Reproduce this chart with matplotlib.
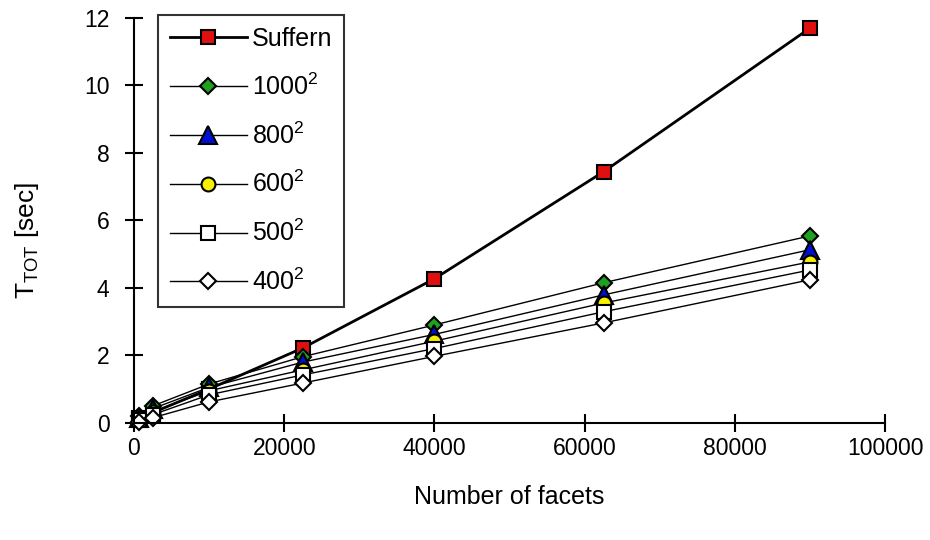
import matplotlib
matplotlib.use("Agg")
import matplotlib.pyplot as plt

facets = [625, 2500, 10000, 22500, 40000, 62500, 90000]
suffern = [0.15, 0.3, 1.0, 2.22, 4.27, 7.44, 11.7]
s1000 = [0.2, 0.5, 1.15, 1.96, 2.9, 4.15, 5.54]
s800 = [0.15, 0.42, 1.05, 1.8, 2.62, 3.79, 5.13]
s600 = [0.12, 0.33, 0.95, 1.57, 2.42, 3.55, 4.77]
s500 = [0.08, 0.24, 0.83, 1.42, 2.2, 3.29, 4.53]
s400 = [0.03, 0.15, 0.62, 1.18, 1.97, 2.96, 4.24]

labels = ["Suffern", "1000$^2$", "800$^2$", "600$^2$", "500$^2$", "400$^2$"]

plt.rcParams['font.family'] = ['Liberation Sans', 'DejaVu Sans']
plt.rcParams['mathtext.fontset'] = 'custom'
plt.rcParams['mathtext.rm'] = 'Liberation Sans'
plt.rcParams['mathtext.it'] = 'Liberation Sans'

fig = plt.figure(figsize=(9.3, 5.4), dpi=100)
ax = fig.add_axes([0.144, 0.217, 0.808, 0.750])

ax.plot(facets, suffern, '-s', color='black', lw=2, ms=10.5, mfc='#e01010', mec='black', mew=1.5, label=labels[0])
ax.plot(facets, s1000, '-D', color='black', lw=1, ms=8.5, mfc='#20a020', mec='black', mew=1.5, label=labels[1])
ax.plot(facets, s800, '-^', color='black', lw=1, ms=12.5, mfc='#0010d0', mec='black', mew=1.5, label=labels[2])
ax.plot(facets, s600, '-o', color='black', lw=1, ms=10, mfc='#f8f000', mec='black', mew=1.5, label=labels[3])
ax.plot(facets, s500, '-s', color='black', lw=1, ms=10, mfc='white', mec='black', mew=1.5, label=labels[4])
ax.plot(facets, s400, '-D', color='black', lw=1, ms=8.5, mfc='white', mec='black', mew=1.5, label=labels[5])

ax.set_xlim(0, 100000)
ax.set_ylim(0, 12)
ax.set_xticks([0, 20000, 40000, 60000, 80000, 100000])
ax.set_yticks([0, 2, 4, 6, 8, 10, 12])
for s in ['top', 'right']:
    ax.spines[s].set_visible(False)
for s in ['left', 'bottom']:
    ax.spines[s].set_linewidth(1.5)
ax.tick_params(direction='inout', length=13, width=1.5, labelsize=16.5)
ax.tick_params(axis='x', pad=4)
ax.tick_params(axis='y', pad=11)
for c in ax.lines:
    c.set_clip_on(False)

ax.set_xlabel("Number of facets", fontsize=18, labelpad=18)
ax.set_ylabel("T$_{\\mathrm{TOT}}$ [sec]", fontsize=19)
ax.yaxis.set_label_coords(-0.123, 0.45)

leg = ax.legend(loc='upper left', bbox_to_anchor=(0.032, 1.007), borderaxespad=0,
                fontsize=18, frameon=True,
                fancybox=False, edgecolor='black', borderpad=0.47, labelspacing=0.9,
                handlelength=3.1, handletextpad=0.2)
leg.get_frame().set_linewidth(1.5)

fig.savefig("out.png", dpi=100)
